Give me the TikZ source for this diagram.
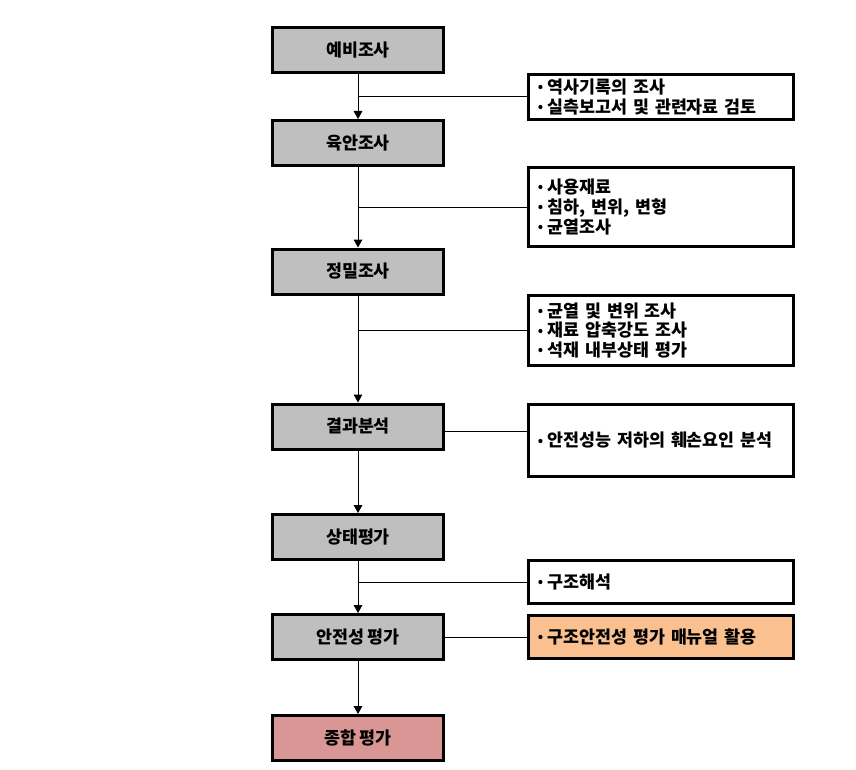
\documentclass[tikz,border=0pt]{standalone}
\usepackage{fontspec}
\usepackage{tikz}
\usetikzlibrary{arrows.meta,positioning}

\newfontfamily\kr{Noto Sans CJK KR}
\definecolor{stagegray}{RGB}{191,191,191}
\definecolor{toolorange}{RGB}{250,192,144}
\definecolor{finalpink}{RGB}{217,150,148}
\newcommand{\itemdot}{\raisebox{0.2ex}{\fontsize{10}{10}\selectfont•}\hspace{3.5pt}}

\begin{document}
\begin{tikzpicture}[x=0.75pt,y=-0.75pt,>={Triangle[length=6pt,width=6.5pt]},
                    line width=0.75pt]
  \tikzstyle{stage}=[draw=black,line width=2.25pt,fill=stagegray,
                     minimum width=128.25pt,minimum height=33.75pt,
                     font=\kr\bfseries\fontsize{13}{14.8}\selectfont]
  \tikzstyle{detail}=[draw=black,line width=2.25pt,fill=white,
                      text width=184.75pt,inner xsep=7pt,inner ysep=1pt,align=left,
                      font=\kr\bfseries\fontsize{13}{14.8}\selectfont]

  \useasboundingbox (0,0) rectangle (856,770);

  \node[stage]                  (A) at (358,50)    {예비조사};
  \node[stage]                  (B) at (358,143)   {육안조사};
  \node[stage]                  (C) at (358,271.5) {정밀조사};
  \node[stage]                  (D) at (358,426.5) {결과분석};
  \node[stage]                  (E) at (358,537)   {상태평가};
  \node[stage]                  (F) at (358,637)   {안전성 평가};
  \node[stage,fill=finalpink]   (G) at (358,738)   {종합 평가};

  \node[detail,minimum height=33.75pt]  (A1) at (661,97)    {\itemdot 역사기록의 조사\\\itemdot 실측보고서 및 관련자료 검토};
  \node[detail,minimum height=59.25pt]  (B1) at (661,207)   {\itemdot 사용재료\\\itemdot 침하, 변위, 변형\\\itemdot 균열조사};
  \node[detail,minimum height=52.5pt]   (C1) at (661,330.5) {\itemdot 균열 및 변위 조사\\\itemdot 재료 압축강도 조사\\\itemdot 석재 내부상태 평가};
  \node[detail,minimum height=54pt]     (D1) at (661,440.5) {\itemdot 안전성능 저하의 훼손요인 분석};
  \node[detail,minimum height=32.25pt]  (E1) at (661,582)   {\itemdot 구조해석};
  \node[detail,minimum height=32.25pt,fill=toolorange] (F1) at (661,637) {\itemdot 구조안전성 평가 매뉴얼 활용};

  \coordinate (d4) at (0,431);

  \path (A) edge[->]  (B)
        (B) edge[->]  (C)
        (C) edge[->]  (D)
        (D) edge[->]  (E)
        (E) edge[->]  (F)
        (F) edge[->]  (G)
        (A1.west) edge (A1.west -| A.south)
        (B1.west) edge (B1.west -| B.south)
        (C1.west) edge (C1.west -| C.south)
        (D.east |- d4) edge (D1.west |- d4)
        (E1.west) edge (E1.west -| E.south)
        (F.east)  edge (F1.west);
\end{tikzpicture}
\end{document}
